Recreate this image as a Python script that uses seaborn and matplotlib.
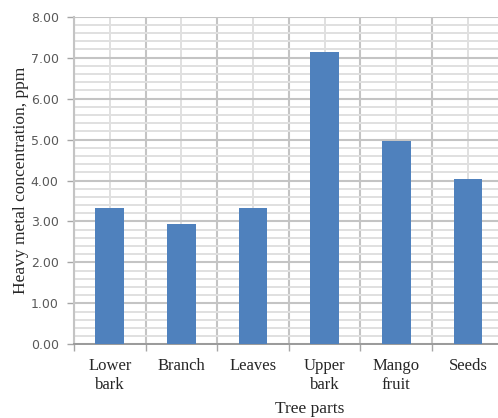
import matplotlib
matplotlib.use("Agg")
import matplotlib.pyplot as plt
import seaborn as sns
import pandas as pd
import numpy as np
from matplotlib.ticker import MultipleLocator, FixedLocator

# Heavy metal concentration measured in each part of the mango tree
parts = ["Lower\nbark", "Branch", "Leaves", "Upper\nbark", "Mango\nfruit", "Seeds"]
concentration = [3.33, 2.95, 3.33, 7.14, 4.96, 4.03]
y_ticks = [0, 1, 2, 3, 4, 5, 6, 7, 8]

df = pd.DataFrame({"part": parts, "ppm": concentration})

sns.set_style("white")
serif = ["Liberation Serif", "DejaVu Serif"]

fig = plt.figure(figsize=(4.98, 4.18), dpi=100)
ax = fig.add_axes([0.1486, 0.1763, 0.8627, 0.7837])

sns.barplot(data=df, x="part", y="ppm", color="#4f81bd", width=0.4,
            saturation=1, edgecolor="none", ax=ax, zorder=3)

ax.set_xlim(-0.5, len(parts) - 0.5)
ax.set_ylim(0, 8)
ax.set_axisbelow(True)

# y axis: labelled ticks every 1.00, finer grid every 0.20
ax.yaxis.set_major_locator(FixedLocator(y_ticks))
ax.set_yticklabels([f"{v:.2f}" for v in y_ticks])
ax.yaxis.set_minor_locator(MultipleLocator(0.2))

# x axis: labels at category centres, ticks at category boundaries
ax.xaxis.set_minor_locator(FixedLocator(np.arange(-0.5, len(parts), 1.0)))

ax.grid(which="major", axis="y", color="#c4c4c4", linewidth=1.5, zorder=0)
ax.grid(which="minor", axis="y", color="#e0e0e0", linewidth=1.4, zorder=0)
ax.grid(which="minor", axis="x", color="#c4c4c4", linewidth=1.5, zorder=0)
ax.grid(which="major", axis="x", color="#e0e0e0", linewidth=1.4, zorder=0)

ax.tick_params(axis="y", which="major", length=5, width=1, color="#a6a6a6",
               direction="out", left=True, pad=6,
               labelsize=9, labelcolor="#595959")
ax.tick_params(axis="y", which="minor", length=0)
ax.tick_params(axis="x", which="major", length=0, pad=9.5,
               labelsize=12, labelcolor="#262626")
ax.tick_params(axis="x", which="minor", length=5, width=1, color="#a6a6a6",
               direction="out", bottom=True)
for lab in ax.get_xticklabels():
    lab.set_fontfamily(serif)
    lab.set_linespacing(1.25)
for lab in ax.get_yticklabels():
    lab.set_fontfamily(["DejaVu Sans"])

for side in ["top", "right"]:
    ax.spines[side].set_visible(False)
ax.spines["left"].set_color("#c4c4c4")
ax.spines["left"].set_linewidth(1.5)
ax.spines["bottom"].set_color("#9a9a9a")
ax.spines["bottom"].set_linewidth(1.4)
ax.spines["left"].set_zorder(1)

ax.set_ylabel("Heavy metal concentration, ppm", fontsize=12.5, family=serif,
              color="#262626")
ax.yaxis.set_label_coords(-0.104, 0.5)
ax.set_xlabel("Tree parts", fontsize=12.5, family=serif, color="#262626")
ax.xaxis.set_label_coords(0.549, -0.172)

fig.savefig("out.png", dpi=100)
